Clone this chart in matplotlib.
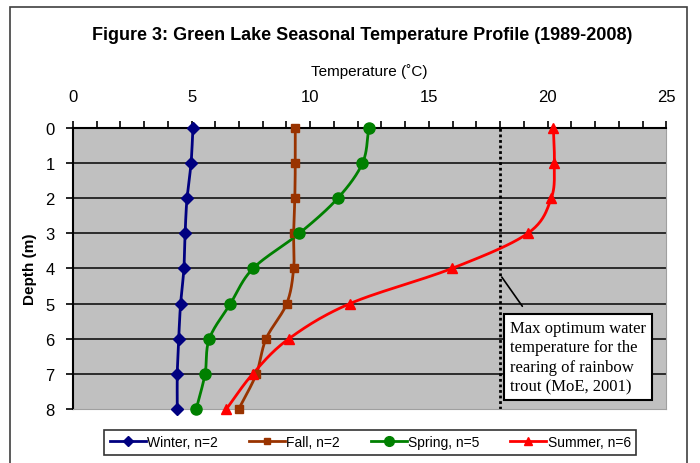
import numpy as np
import matplotlib
matplotlib.use("Agg")
import matplotlib.pyplot as plt
from matplotlib.ticker import MultipleLocator
from matplotlib.patches import Rectangle

plt.rcParams['font.family'] = ['Liberation Sans', 'DejaVu Sans']

# depth (m)
depth = [0, 1, 2, 3, 4, 5, 6, 7, 8]

# seasonal mean temperatures (deg C) per depth
winter = [5.06, 4.98, 4.81, 4.73, 4.68, 4.54, 4.46, 4.40, 4.40]
fall = [9.37, 9.37, 9.35, 9.30, 9.30, 9.01, 8.14, 7.73, 6.99]
spring = [12.47, 12.20, 11.16, 9.54, 7.59, 6.64, 5.75, 5.57, 5.20]
summer = [20.24, 20.28, 20.15, 19.16, 15.96, 11.67, 9.10, 7.58, 6.47]

labels = ["Winter, n=2", "Fall, n=2", "Spring, n=5", "Summer, n=6"]
trout_max = 18


def smooth(xs, ys, n=24):
    # catmull-rom curve through the points (like Excel's smoothed line)
    pts = np.column_stack([xs, ys]).astype(float)
    pts = np.vstack([2 * pts[0] - pts[1], pts, 2 * pts[-1] - pts[-2]])
    out = []
    t = np.linspace(0, 1, n)[:, None]
    for i in range(1, len(pts) - 2):
        p0, p1, p2, p3 = pts[i - 1], pts[i], pts[i + 1], pts[i + 2]
        seg = 0.5 * ((2 * p1) + (-p0 + p2) * t + (2 * p0 - 5 * p1 + 4 * p2 - p3) * t ** 2
                     + (-p0 + 3 * p1 - 3 * p2 + p3) * t ** 3)
        out.append(seg if i == 1 else seg[1:])
    out = np.vstack(out)
    return out[:, 0], out[:, 1]


fig = plt.figure(figsize=(7, 4.64), dpi=100)
ax = fig.add_axes([0.104, 0.1164, 0.848, 0.6056])
ax.set_facecolor("#C0C0C0")

# outer chart frame (runs off the bottom of the picture)
fig.patches.append(Rectangle((10 / 700, -0.1), 677 / 700, 1.1 - 8 / 464,
                             transform=fig.transFigure, fill=False,
                             edgecolor="#404040", linewidth=1.2))

for d in depth[1:-1]:
    ax.axhline(d, color="#202020", linewidth=1.3, zorder=1)

ax.axvline(trout_max, color="black", linestyle=(0, (1, 1)), linewidth=2, zorder=2)

series = [
    (winter, "#000080", "D", 6),
    (fall, "#993300", "s", 6),
    (spring, "#008000", "o", 8),
    (summer, "#FF0000", "^", 7),
]
handles = []
for (vals, col, mk, ms), lab in zip(series, labels):
    sx, sy = smooth(vals, depth)
    ax.plot(sx, sy, color=col, linewidth=2, zorder=3, clip_on=False)
    ax.plot(vals, depth, linestyle="none", marker=mk, color=col, markersize=ms,
            zorder=4, clip_on=False)
    h, = ax.plot([], [], color=col, marker=mk, markersize=ms - 1, linewidth=2)
    handles.append(h)

ax.set_xlim(0, 25)
ax.set_ylim(8, 0)
ax.xaxis.tick_top()
ax.xaxis.set_label_position("top")
ax.xaxis.set_major_locator(MultipleLocator(5))
ax.xaxis.set_minor_locator(MultipleLocator(1))
ax.yaxis.set_major_locator(MultipleLocator(1))
ax.tick_params(axis="x", which="both", direction="out", length=5, width=1.2,
               labelsize=12, pad=12, top=True, bottom=False)
ax.tick_params(axis="x", which="minor", length=5)
ax.tick_params(axis="y", direction="out", length=5, width=1.2, labelsize=12, pad=8)
ax.spines["top"].set_linewidth(1.5)
ax.spines["left"].set_linewidth(1.5)
ax.spines["right"].set_color("#A0A0A0")
ax.spines["bottom"].set_color("#A0A0A0")

ax.set_xlabel("Temperature (\u02daC)", fontsize=11, labelpad=10)
ax.set_ylabel("Depth (m)", fontsize=11, fontweight="bold", labelpad=6)
fig.text(0.518, 1 - 36 / 464, "Figure 3: Green Lake Seasonal Temperature Profile (1989-2008)",
         ha="center", va="center", fontsize=13, fontweight="bold")

# annotation for the trout threshold
ax.annotate("", xy=(trout_max, 4.18), xytext=(19.0, 5.14),
            arrowprops=dict(arrowstyle="-", color="black", linewidth=1.2))
ax.text(18.42, 6.52, "Max optimum water\ntemperature for the\nrearing of rainbow\ntrout (MoE, 2001)",
        ha="left", va="center", fontsize=12, family="Liberation Serif", linespacing=1.3,
        zorder=6,
        bbox=dict(boxstyle="square,pad=0.35", facecolor="white", edgecolor="black", linewidth=1.5))

leg = fig.legend(handles, labels, loc="center", bbox_to_anchor=(0.529, 0.045), ncol=4,
                 fontsize=10, frameon=True, fancybox=False, handlelength=2.6,
                 columnspacing=2.2, handletextpad=0.1, borderpad=0.4)
leg.get_frame().set_edgecolor("black")
leg.get_frame().set_linewidth(1.2)

fig.savefig("out.png", dpi=100)
